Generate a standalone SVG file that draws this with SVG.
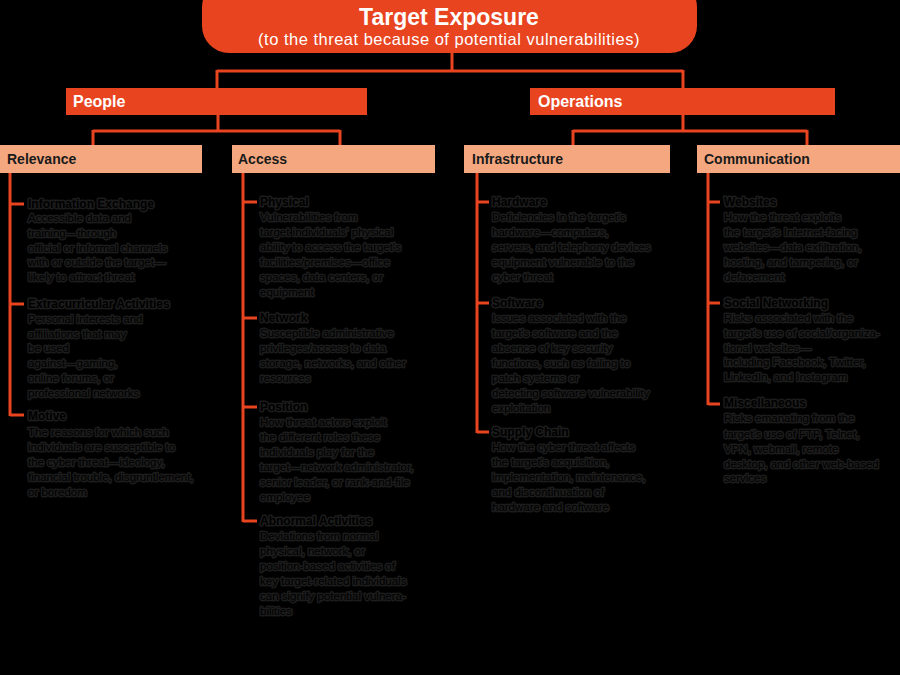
<svg xmlns="http://www.w3.org/2000/svg" width="900" height="675" viewBox="0 0 900 675">
<style>
.bg{fill:#000}
.or{fill:#E8441F}
.pe{fill:#F5A880}
.cn{fill:none;stroke:#E8441F;stroke-width:3}
.t1{font-family:"Liberation Sans",Arial,sans-serif;font-weight:bold;font-size:23px;fill:#fff}
.t2{font-family:"Liberation Sans",Arial,sans-serif;font-size:16.5px;letter-spacing:0.5px;fill:#fff}
.h1{font-family:"Liberation Sans",Arial,sans-serif;font-weight:bold;font-size:16px;fill:#fff}
.h2{font-family:"Liberation Sans",Arial,sans-serif;font-weight:bold;font-size:14px;fill:#1a1a1a}
.it,.bd{font-family:"Liberation Sans",Arial,sans-serif;fill:#000;stroke:#1c1c1c;stroke-width:3;stroke-linejoin:round;paint-order:stroke}
.it{font-weight:bold;font-size:12px}
.bd{font-size:11.5px}
</style>
<rect class="bg" x="0" y="0" width="900" height="675"/>
<g id="connectors">
<path class="cn" d="M452 52V71M217 71H683M217 70V89M683 70V89"/>
<path class="cn" d="M218 115V131M93 131H340M93 130V146M340 130V146"/>
<path class="cn" d="M683 115V131M573 131H807M573 130V146M807 130V146"/>
<path class="cn" d="M10 173V416M10 204H24M10 304H24M10 415H24"/>
<path class="cn" d="M243 173V522M243 202H257M243 318H257M243 407H257M243 521H257"/>
<path class="cn" d="M477 173V433M477 202H489M477 303H489M477 432H489"/>
<path class="cn" d="M708 173V405M708 202H720M708 303H720M708 404H720"/>
</g>
<g id="target-exposure">
<rect class="or" x="202" y="-20" width="495" height="73" rx="27" ry="27"/>
<text class="t1" x="449" y="25" text-anchor="middle">Target Exposure</text>
<text class="t2" x="449" y="44.5" text-anchor="middle">(to the threat because of potential vulnerabilities)</text>
</g>
<g id="people">
<rect class="or" x="66" y="88" width="301" height="27"/>
<text class="h1" x="73" y="107">People</text>
</g>
<g id="operations">
<rect class="or" x="530" y="88" width="305" height="27"/>
<text class="h1" x="538" y="107">Operations</text>
</g>
<g id="relevance">
<rect class="pe" x="0" y="145" width="202" height="28"/>
<text class="h2" x="7" y="164">Relevance</text>
<text class="it" x="28" y="208">Information Exchange</text>
<text class="bd" x="28" y="222">Accessible data and</text>
<text class="bd" x="28" y="237">training—through</text>
<text class="bd" x="28" y="252">official or informal channels</text>
<text class="bd" x="28" y="266">with or outside the target—</text>
<text class="bd" x="28" y="281">likely to attract threat</text>
<text class="it" x="28" y="308">Extracurricular Activities</text>
<text class="bd" x="28" y="323">Personal interests and</text>
<text class="bd" x="28" y="338">affiliations that may</text>
<text class="bd" x="28" y="352">be used</text>
<text class="bd" x="28" y="367">against—gaming,</text>
<text class="bd" x="28" y="382">online forums, or</text>
<text class="bd" x="28" y="397">professional networks</text>
<text class="it" x="28" y="420">Motive</text>
<text class="bd" x="28" y="436">The reasons for which such</text>
<text class="bd" x="28" y="451">individuals are susceptible to</text>
<text class="bd" x="28" y="466">the cyber threat—ideology,</text>
<text class="bd" x="28" y="481">financial trouble, disgruntlement,</text>
<text class="bd" x="28" y="496">or boredom</text>
</g>
<g id="access">
<rect class="pe" x="232" y="145" width="203" height="28"/>
<text class="h2" x="238" y="164">Access</text>
<text class="it" x="260" y="206">Physical</text>
<text class="bd" x="260" y="221">Vulnerabilities from</text>
<text class="bd" x="260" y="236">target individuals' physical</text>
<text class="bd" x="260" y="251">ability to access the target's</text>
<text class="bd" x="260" y="266">facilities/premises—office</text>
<text class="bd" x="260" y="281">spaces, data centers, or</text>
<text class="bd" x="260" y="296">equipment</text>
<text class="it" x="260" y="322">Network</text>
<text class="bd" x="260" y="337">Susceptible administrative</text>
<text class="bd" x="260" y="352">privileges/access to data</text>
<text class="bd" x="260" y="367">storage, networks, and other</text>
<text class="bd" x="260" y="382">resources</text>
<text class="it" x="260" y="411">Position</text>
<text class="bd" x="260" y="426">How threat actors exploit</text>
<text class="bd" x="260" y="441">the different roles these</text>
<text class="bd" x="260" y="456">individuals play for the</text>
<text class="bd" x="260" y="471">target—network administrator,</text>
<text class="bd" x="260" y="486">senior leader, or rank-and-file</text>
<text class="bd" x="260" y="501">employee</text>
<text class="it" x="260" y="525">Abnormal Activities</text>
<text class="bd" x="260" y="540">Deviations from normal</text>
<text class="bd" x="260" y="555">physical, network, or</text>
<text class="bd" x="260" y="570">position-based activities of</text>
<text class="bd" x="260" y="585">key target-related individuals</text>
<text class="bd" x="260" y="600">can signify potential vulnera-</text>
<text class="bd" x="260" y="615">bilities</text>
</g>
<g id="infrastructure">
<rect class="pe" x="464" y="145" width="206" height="28"/>
<text class="h2" x="472" y="164">Infrastructure</text>
<text class="it" x="492" y="206">Hardware</text>
<text class="bd" x="492" y="221">Deficiencies in the target's</text>
<text class="bd" x="492" y="236">hardware—computers,</text>
<text class="bd" x="492" y="251">servers, and telephony devices</text>
<text class="bd" x="492" y="266">equipment vulnerable to the</text>
<text class="bd" x="492" y="281">cyber threat</text>
<text class="it" x="492" y="307">Software</text>
<text class="bd" x="492" y="322">Issues associated with the</text>
<text class="bd" x="492" y="337">target's software and the</text>
<text class="bd" x="492" y="352">absence of key security</text>
<text class="bd" x="492" y="367">functions, such as failing to</text>
<text class="bd" x="492" y="382">patch systems or</text>
<text class="bd" x="492" y="397">detecting software vulnerability</text>
<text class="bd" x="492" y="412">exploitation</text>
<text class="it" x="492" y="436">Supply Chain</text>
<text class="bd" x="492" y="451">How the cyber threat affects</text>
<text class="bd" x="492" y="466">the target's acquisition,</text>
<text class="bd" x="492" y="481">implementation, maintenance,</text>
<text class="bd" x="492" y="496">and discontinuation of</text>
<text class="bd" x="492" y="511">hardware and software</text>
</g>
<g id="communication">
<rect class="pe" x="697" y="145" width="203" height="28"/>
<text class="h2" x="704" y="164">Communication</text>
<text class="it" x="724" y="206">Websites</text>
<text class="bd" x="724" y="221">How the threat exploits</text>
<text class="bd" x="724" y="236">the target's Internet-facing</text>
<text class="bd" x="724" y="251">websites—data exfiltration,</text>
<text class="bd" x="724" y="266">hosting, and tampering, or</text>
<text class="bd" x="724" y="281">defacement</text>
<text class="it" x="724" y="307">Social Networking</text>
<text class="bd" x="724" y="322">Risks associated with the</text>
<text class="bd" x="724" y="337">target's use of social/organiza-</text>
<text class="bd" x="724" y="352">tional websites—</text>
<text class="bd" x="724" y="366">including Facebook, Twitter,</text>
<text class="bd" x="724" y="381">LinkedIn, and Instagram</text>
<text class="it" x="724" y="407">Miscellaneous</text>
<text class="bd" x="724" y="422">Risks emanating from the</text>
<text class="bd" x="724" y="438">target's use of FTP, Telnet,</text>
<text class="bd" x="724" y="453">VPN, webmail, remote</text>
<text class="bd" x="724" y="468">desktop, and other web-based</text>
<text class="bd" x="724" y="482">services</text>
</g>
</svg>
